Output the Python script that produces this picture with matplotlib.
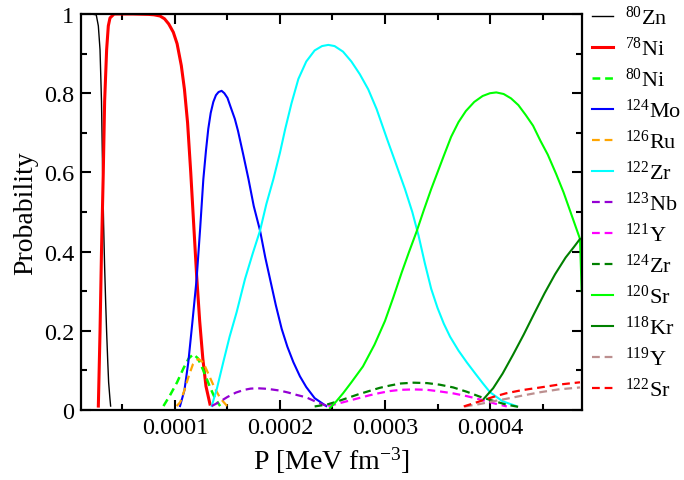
import matplotlib
matplotlib.use("Agg")
import matplotlib.pyplot as plt
from matplotlib.ticker import MultipleLocator, FixedLocator, FixedFormatter

plt.rcParams['font.family'] = ['Liberation Serif', 'DejaVu Serif']
plt.rcParams['mathtext.fontset'] = 'custom'
plt.rcParams['mathtext.rm'] = 'Liberation Serif'
plt.rcParams['mathtext.it'] = 'Liberation Serif:italic'

# ---------------- data ----------------
zn80_p = [1.08e-5, 2.0e-5, 2.5e-5, 2.7e-5, 2.86e-5, 3.0e-5, 3.11e-5, 3.2e-5, 3.3e-5, 3.4e-5, 3.49e-5, 3.6e-5, 3.68e-5, 3.8e-5, 3.87e-5]
zn80_y = [1.0, 1.0, 0.998, 0.97, 0.91, 0.78, 0.60, 0.47, 0.36, 0.27, 0.197, 0.12, 0.07, 0.03, 0.01]

ni78_p = [2.70e-5, 2.86e-5, 3.0e-5, 3.17e-5, 3.3e-5, 3.49e-5, 3.65e-5, 3.81e-5, 4.2e-5, 6.0e-5, 7.5e-5, 8.0e-5, 8.57e-5, 9.0e-5, 9.4e-5, 9.84e-5,
          1.02e-4, 1.06e-4, 1.09e-4, 1.12e-4, 1.15e-4, 1.18e-4, 1.206e-4, 1.235e-4, 1.265e-4, 1.295e-4, 1.333e-4]
ni78_y = [0.01, 0.197, 0.40, 0.60, 0.78, 0.91, 0.97, 0.99, 1.0, 1.0, 0.999, 0.998, 0.995, 0.988, 0.975, 0.954,
          0.925, 0.87, 0.81, 0.725, 0.60, 0.46, 0.34, 0.225, 0.13, 0.06, 0.015]

ni80_p = [8.9e-5, 9.5e-5, 1.02e-4, 1.08e-4, 1.13e-4, 1.175e-4, 1.22e-4, 1.27e-4, 1.33e-4, 1.38e-4, 1.43e-4]
ni80_y = [0.01, 0.036, 0.07, 0.105, 0.13, 0.141, 0.13, 0.10, 0.06, 0.03, 0.01]

mo124_p = [1.048e-4, 1.09e-4, 1.127e-4, 1.165e-4, 1.206e-4, 1.24e-4, 1.27e-4, 1.295e-4, 1.317e-4, 1.34e-4, 1.365e-4, 1.39e-4,
           1.415e-4, 1.444e-4, 1.47e-4, 1.50e-4, 1.53e-4, 1.57e-4, 1.60e-4, 1.65e-4, 1.70e-4, 1.75e-4, 1.81e-4, 1.86e-4,
           1.905e-4, 1.96e-4, 2.016e-4, 2.07e-4, 2.127e-4, 2.19e-4, 2.25e-4, 2.33e-4, 2.44e-4]
mo124_y = [0.01, 0.05, 0.121, 0.22, 0.331, 0.46, 0.583, 0.655, 0.71, 0.75, 0.778, 0.795,
           0.803, 0.806, 0.80, 0.788, 0.765, 0.735, 0.705, 0.645, 0.583, 0.515, 0.453, 0.385,
           0.331, 0.265, 0.205, 0.16, 0.121, 0.085, 0.058, 0.03, 0.01]

ru126_p = [1.016e-4, 1.05e-4, 1.09e-4, 1.13e-4, 1.17e-4, 1.222e-4, 1.27e-4, 1.32e-4, 1.37e-4, 1.43e-4, 1.49e-4, 1.524e-4]
ru126_y = [0.01, 0.02, 0.05, 0.085, 0.115, 0.129, 0.12, 0.09, 0.06, 0.03, 0.012, 0.008]

zr122_p = [1.35e-4, 1.40e-4, 1.46e-4, 1.52e-4, 1.587e-4, 1.667e-4, 1.74e-4, 1.81e-4, 1.87e-4, 1.937e-4, 2.0e-4, 2.05e-4, 2.11e-4,
           2.175e-4, 2.25e-4, 2.33e-4, 2.40e-4, 2.46e-4, 2.52e-4, 2.60e-4, 2.68e-4, 2.76e-4, 2.84e-4, 2.92e-4, 3.02e-4, 3.10e-4,
           3.19e-4, 3.26e-4, 3.32e-4, 3.38e-4, 3.44e-4, 3.50e-4, 3.56e-4, 3.62e-4, 3.70e-4, 3.78e-4, 3.86e-4, 3.93e-4, 4.0e-4,
           4.12e-4, 4.25e-4]
zr122_y = [0.01, 0.055, 0.121, 0.185, 0.247, 0.331, 0.395, 0.453, 0.52, 0.583, 0.65, 0.71, 0.775,
           0.836, 0.88, 0.908, 0.919, 0.922, 0.919, 0.905, 0.88, 0.848, 0.81, 0.76, 0.684, 0.625,
           0.558, 0.50, 0.44, 0.37, 0.306, 0.258, 0.218, 0.185, 0.15, 0.12, 0.092, 0.068, 0.045,
           0.022, 0.01]

nb123_p = [1.35e-4, 1.42e-4, 1.50e-4, 1.58e-4, 1.66e-4, 1.72e-4, 1.78e-4, 1.85e-4, 1.92e-4, 2.0e-4, 2.08e-4, 2.16e-4, 2.25e-4, 2.35e-4, 2.44e-4]
nb123_y = [0.01, 0.02, 0.033, 0.044, 0.051, 0.054, 0.055, 0.054, 0.052, 0.049, 0.044, 0.038, 0.032, 0.02, 0.011]

y121_p = [2.46e-4, 2.55e-4, 2.65e-4, 2.75e-4, 2.85e-4, 2.95e-4, 3.05e-4, 3.15e-4, 3.27e-4, 3.40e-4, 3.52e-4, 3.65e-4, 3.78e-4, 3.90e-4, 4.05e-4, 4.16e-4]
y121_y = [0.01, 0.016, 0.023, 0.030, 0.037, 0.043, 0.048, 0.051, 0.052, 0.051, 0.047, 0.042, 0.035, 0.027, 0.016, 0.009]

zr124_p = [2.33e-4, 2.45e-4, 2.55e-4, 2.65e-4, 2.75e-4, 2.85e-4, 2.95e-4, 3.05e-4, 3.15e-4, 3.27e-4, 3.40e-4, 3.52e-4, 3.65e-4, 3.78e-4, 3.90e-4, 4.02e-4, 4.15e-4, 4.29e-4]
zr124_y = [0.009, 0.014, 0.022, 0.031, 0.040, 0.048, 0.056, 0.062, 0.067, 0.069, 0.068, 0.064, 0.057, 0.046, 0.034, 0.024, 0.014, 0.007]

sr120_p = [2.476e-4, 2.53e-4, 2.60e-4, 2.68e-4, 2.79e-4, 2.90e-4, 3.0e-4, 3.08e-4, 3.16e-4, 3.23e-4, 3.30e-4, 3.37e-4, 3.44e-4,
           3.50e-4, 3.56e-4, 3.63e-4, 3.70e-4, 3.77e-4, 3.85e-4, 3.93e-4, 4.0e-4, 4.06e-4, 4.13e-4, 4.20e-4, 4.27e-4, 4.34e-4,
           4.41e-4, 4.48e-4, 4.55e-4, 4.63e-4, 4.70e-4, 4.78e-4, 4.857e-4, 4.873e-4]
sr120_y = [0.005, 0.02, 0.042, 0.07, 0.11, 0.165, 0.225, 0.285, 0.348, 0.40, 0.45, 0.505, 0.558,
           0.60, 0.642, 0.69, 0.727, 0.755, 0.778, 0.793, 0.80, 0.802, 0.798, 0.787, 0.77, 0.745,
           0.718, 0.68, 0.645, 0.596, 0.55, 0.49, 0.432, 0.30]

kr118_p = [3.94e-4, 4.03e-4, 4.12e-4, 4.22e-4, 4.32e-4, 4.42e-4, 4.52e-4, 4.62e-4, 4.72e-4, 4.80e-4, 4.857e-4]
kr118_y = [0.028, 0.055, 0.092, 0.14, 0.19, 0.243, 0.295, 0.343, 0.385, 0.412, 0.432]

y119_p = [3.76e-4, 3.90e-4, 4.03e-4, 4.15e-4, 4.30e-4, 4.48e-4, 4.65e-4, 4.857e-4]
y119_y = [0.009, 0.015, 0.022, 0.028, 0.036, 0.045, 0.052, 0.057]

sr122_p = [3.75e-4, 3.88e-4, 4.03e-4, 4.15e-4, 4.30e-4, 4.48e-4, 4.65e-4, 4.857e-4]
sr122_y = [0.009, 0.02, 0.033, 0.042, 0.05, 0.057, 0.064, 0.07]

x_ticks = [1e-4, 2e-4, 3e-4, 4e-4]
x_tick_labels = ['0.0001', '0.0002', '0.0003', '0.0004']
y_ticks = [0, 0.2, 0.4, 0.6, 0.8, 1.0]
y_tick_labels = ['0', '0.2', '0.4', '0.6', '0.8', '1']

# ---------------- figure ----------------
fig = plt.figure(figsize=(6.84, 4.81), dpi=100)
ax = fig.add_axes([0.1189, 0.1455, 0.7315, 0.8233])

series = [
    (zn80_p, zn80_y, 'black', '-', 1.0, r'$^{80}$Zn'),
    (ni78_p, ni78_y, 'red', '-', 2.2, r'$^{78}$Ni'),
    (ni80_p, ni80_y, '#00ff00', '--', 1.8, r'$^{80}$Ni'),
    (mo124_p, mo124_y, '#0000ff', '-', 1.5, r'$^{124}$Mo'),
    (ru126_p, ru126_y, '#ffa500', '--', 1.6, r'$^{126}$Ru'),
    (zr122_p, zr122_y, '#00ffff', '-', 1.5, r'$^{122}$Zr'),
    (nb123_p, nb123_y, '#9400d3', '--', 1.6, r'$^{123}$Nb'),
    (y121_p, y121_y, '#ff00ff', '--', 1.6, r'$^{121}$Y'),
    (zr124_p, zr124_y, '#008000', '--', 1.6, r'$^{124}$Zr'),
    (sr120_p, sr120_y, '#00ff00', '-', 1.5, r'$^{120}$Sr'),
    (kr118_p, kr118_y, '#008000', '-', 1.5, r'$^{118}$Kr'),
    (y119_p, y119_y, '#bc8f8f', '--', 1.6, r'$^{119}$Y'),
    (sr122_p, sr122_y, '#ff0000', '--', 1.6, r'$^{122}$Sr'),
]
for p, y, c, ls, lw, lab in series:
    if ls == '--':
        ax.plot(p, y, color=c, lw=lw, dashes=(5.6 / lw, 3.5 / lw), label=lab)
    else:
        ax.plot(p, y, color=c, lw=lw, ls=ls, label=lab, solid_joinstyle='round')

ax.set_xlim(1.08e-5, 4.873e-4)
ax.set_ylim(0, 1)

ax.xaxis.set_major_locator(FixedLocator(x_ticks))
ax.xaxis.set_major_formatter(FixedFormatter(x_tick_labels))
ax.xaxis.set_minor_locator(MultipleLocator(5e-5))
ax.yaxis.set_major_locator(FixedLocator(y_ticks))
ax.yaxis.set_major_formatter(FixedFormatter(y_tick_labels))
ax.yaxis.set_minor_locator(MultipleLocator(0.1))

ax.tick_params(which='both', direction='in', top=True, right=True, width=1.5, labelsize=17.5)
ax.tick_params(axis='x', pad=5)
ax.tick_params(axis='y', pad=5)
ax.tick_params(which='major', length=7.2)
ax.tick_params(which='minor', length=4.3)
for s in ax.spines.values():
    s.set_linewidth(1.6)

ax.set_xlabel(r'P [MeV fm$^{-3}$]', fontsize=20, labelpad=5)
ax.set_ylabel('Probability', fontsize=20, labelpad=4)

leg = ax.legend(loc='upper left', bbox_to_anchor=(591.5 / 684, 1 - 7 / 481), bbox_transform=fig.transFigure,
                frameon=False, borderpad=0, borderaxespad=0, handlelength=0.97, handletextpad=0.53,
                labelspacing=0.35, fontsize=16)

fig.savefig('out.png', dpi=100)
